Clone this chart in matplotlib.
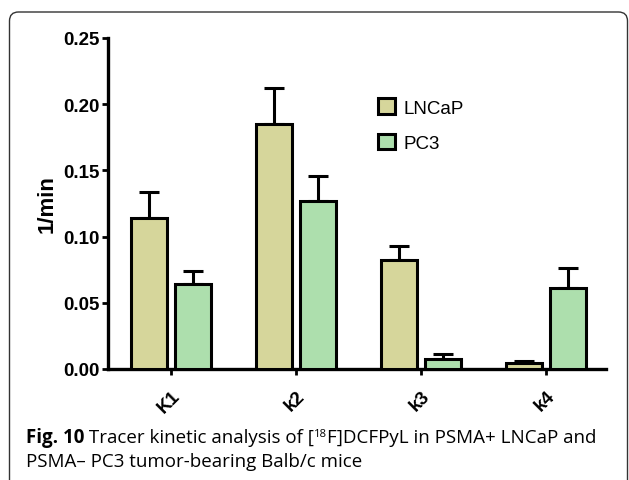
import numpy as np
import matplotlib
matplotlib.use('Agg')
import matplotlib.pyplot as plt
from matplotlib.patches import FancyBboxPatch, Patch
from matplotlib.transforms import IdentityTransform

plt.rcParams['font.family'] = ['Liberation Sans', 'DejaVu Sans']

params = ['K1', 'k2', 'k3', 'k4']
lncap = [0.114, 0.185, 0.082, 0.0045]
lncap_err = [0.020, 0.027, 0.011, 0.0015]
pc3 = [0.064, 0.127, 0.0076, 0.061]
pc3_err = [0.010, 0.019, 0.0034, 0.015]

col_lncap = '#d6d69b'
col_pc3 = '#addfad'

fig = plt.figure(figsize=(6.29, 4.81), dpi=100)
ax = fig.add_axes([108/629, 1-370/481, (606-108)/629, (370-39)/481])

x = np.arange(len(params))
w = 0.29
off = 0.176
lw = 2.2

ax.bar(x - off, lncap, w, color=col_lncap, edgecolor='black', linewidth=lw, zorder=3)
ax.bar(x + off, pc3, w, color=col_pc3, edgecolor='black', linewidth=lw, zorder=3)
ax.errorbar(x - off, lncap, yerr=[np.zeros(4), lncap_err], fmt='none', ecolor='black',
            elinewidth=lw, capsize=7, capthick=lw, zorder=2)
ax.errorbar(x + off, pc3, yerr=[np.zeros(4), pc3_err], fmt='none', ecolor='black',
            elinewidth=lw, capsize=7, capthick=lw, zorder=2)

ax.set_xlim(-0.504, 3.48)
ax.set_ylim(0, 0.25)
ax.set_yticks([0, 0.05, 0.10, 0.15, 0.20, 0.25])
ax.set_yticklabels(['0.00', '0.05', '0.10', '0.15', '0.20', '0.25'], fontweight='bold', fontsize=13.5)
ax.set_xticks(x)
ax.set_xticklabels(params, rotation=45, ha='right', rotation_mode='anchor',
                   fontweight='bold', fontsize=13.5)
ax.tick_params(axis='both', length=4, width=2, pad=2)
ax.tick_params(axis='x', pad=9)
for s in ['top', 'right']:
    ax.spines[s].set_visible(False)
for s in ['left', 'bottom']:
    ax.spines[s].set_linewidth(2.4)
ax.set_ylabel('1/min', fontweight='bold', fontsize=16, labelpad=4)

handles = [Patch(facecolor=col_lncap, edgecolor='black', linewidth=2.2, label='LNCaP'),
           Patch(facecolor=col_pc3, edgecolor='black', linewidth=2.2, label='PC3')]
ax.legend(handles=handles, loc='upper left', bbox_to_anchor=(0.528, 0.84), frameon=False,
          fontsize=13.5, handlelength=0.9, handleheight=0.9, handletextpad=0.45,
          labelspacing=0.9, borderaxespad=0)

# rounded frame around the figure, clipped at right and bottom
frame = FancyBboxPatch((9.5, -30), 618, 481 - 13 + 30, boxstyle='round,pad=0,rounding_size=9',
                       transform=IdentityTransform(), facecolor='none', edgecolor='#333333',
                       linewidth=1.0)
fig.add_artist(frame)

# caption, written piece by piece
cap_size = 13.5
cap_font = 'Open Sans'
renderer = fig.canvas.get_renderer()
pieces = [('Fig. 10', 'bold', 0, cap_size),
          (' Tracer kinetic analysis of [', 'normal', 0, cap_size),
          ('18', 'normal', 6, cap_size * 0.6),
          ('F]DCFPyL in PSMA+ LNCaP and', 'normal', 0, cap_size)]
xpos = 26
for txt, wt, rise, sz in pieces:
    t = fig.text(xpos/629, 1 - (443 - rise)/481, txt, family=cap_font, fontweight=wt,
                 fontsize=sz, va='baseline')
    xpos += t.get_window_extent(renderer).width
fig.text(26/629, 1-467/481, 'PSMA\u2013 PC3 tumor-bearing Balb/c mice',
         family=cap_font, fontsize=cap_size, va='baseline')

fig.savefig('out.png', dpi=100)
